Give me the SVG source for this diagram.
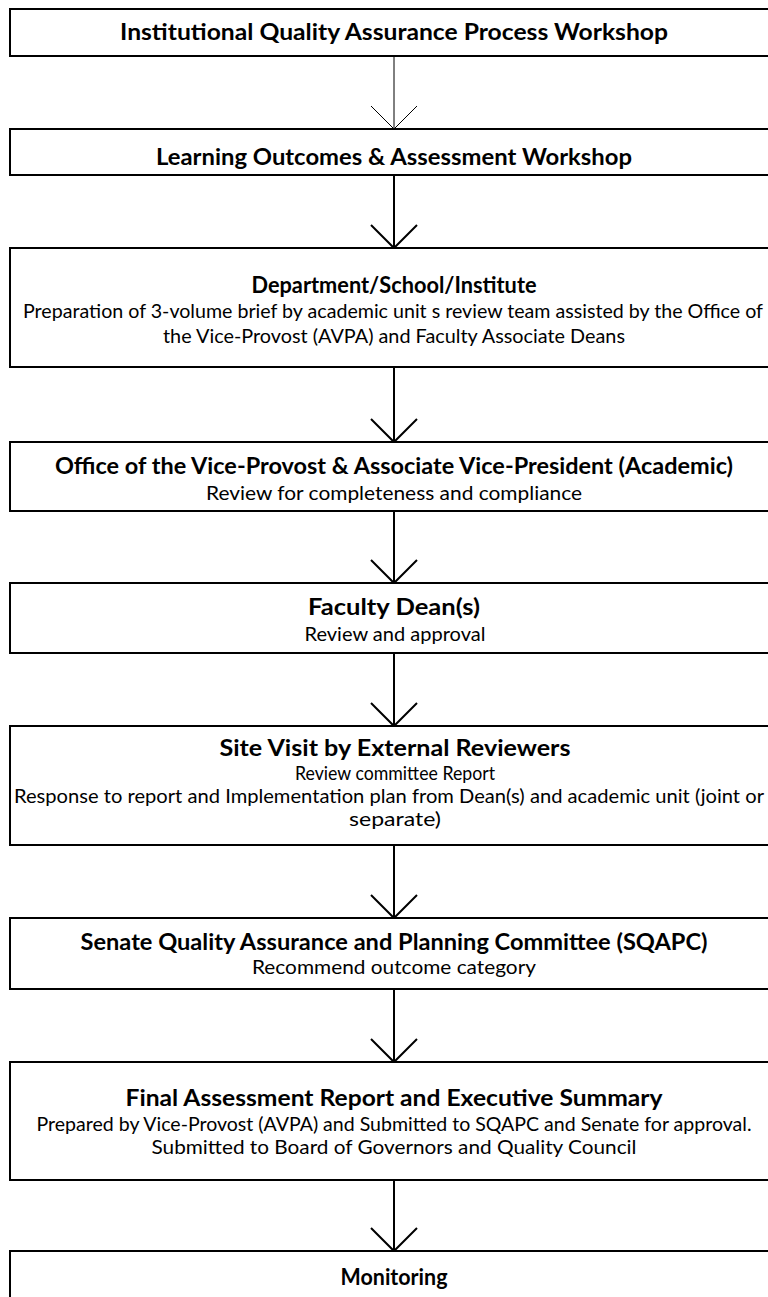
<svg xmlns="http://www.w3.org/2000/svg" width="768" height="1297" viewBox="0 0 768 1297">
<style>
.box{fill:#fff;stroke:#000;stroke-width:2}
.t{font-family:Lato,"Liberation Sans",sans-serif;font-weight:700;font-size:22px;fill:#000;text-anchor:middle}
.b{font-family:Lato,"Liberation Sans",sans-serif;font-weight:400;font-size:19px;fill:#000;text-anchor:middle}
.ln{stroke:#000;stroke-width:2;fill:none}
.thin{stroke:#000;stroke-width:1;fill:none}
</style>
<rect width="768" height="1297" fill="#fff"/>
<g id="connectors">
  <g id="a1"><line class="thin" x1="394" y1="56" x2="394" y2="129"/><polyline class="thin" points="371,106 394,129 417,106"/></g>
  <g id="a2"><line class="ln" x1="394" y1="175" x2="394" y2="248"/><polyline class="ln" points="371,225 394,248 417,225"/></g>
  <g id="a3"><line class="ln" x1="394" y1="367" x2="394" y2="442"/><polyline class="ln" points="371,419 394,442 417,419"/></g>
  <g id="a4"><line class="ln" x1="394" y1="511" x2="394" y2="583"/><polyline class="ln" points="371,560 394,583 417,560"/></g>
  <g id="a5"><line class="ln" x1="394" y1="653" x2="394" y2="726"/><polyline class="ln" points="371,703 394,726 417,703"/></g>
  <g id="a6"><line class="ln" x1="394" y1="845" x2="394" y2="918"/><polyline class="ln" points="371,895 394,918 417,895"/></g>
  <g id="a7"><line class="ln" x1="394" y1="989" x2="394" y2="1062"/><polyline class="ln" points="371,1039 394,1062 417,1039"/></g>
  <g id="a8"><line class="ln" x1="394" y1="1180" x2="394" y2="1251"/><polyline class="ln" points="371,1228 394,1251 417,1228"/></g>
</g>
<g id="n1"><rect class="box" x="10" y="9" width="770" height="47"/>
  <text class="t" x="394" y="40" textLength="548" lengthAdjust="spacingAndGlyphs">Institutional Quality Assurance Process Workshop</text></g>
<g id="n2"><rect class="box" x="10" y="129" width="770" height="46"/>
  <text class="t" x="394" y="165" textLength="476" lengthAdjust="spacingAndGlyphs">Learning Outcomes &amp; Assessment Workshop</text></g>
<g id="n3"><rect class="box" x="10" y="248" width="770" height="119"/>
  <text class="t" x="394" y="293" textLength="285" lengthAdjust="spacingAndGlyphs">Department/School/Institute</text>
  <text class="b" x="393" y="318" textLength="740" lengthAdjust="spacingAndGlyphs">Preparation of 3-volume brief by academic unit s review team assisted by the Office of</text>
  <text class="b" x="394" y="343" textLength="462" lengthAdjust="spacingAndGlyphs">the Vice-Provost (AVPA) and Faculty Associate Deans</text></g>
<g id="n4"><rect class="box" x="10" y="442" width="770" height="69"/>
  <text class="t" x="394" y="474" textLength="678" lengthAdjust="spacingAndGlyphs">Office of the Vice-Provost &amp; Associate Vice-President (Academic)</text>
  <text class="b" x="394" y="500" textLength="376" lengthAdjust="spacingAndGlyphs">Review for completeness and compliance</text></g>
<g id="n5"><rect class="box" x="10" y="583" width="770" height="70"/>
  <text class="t" x="394" y="615" textLength="172" lengthAdjust="spacingAndGlyphs">Faculty Dean(s)</text>
  <text class="b" x="395" y="641" textLength="181" lengthAdjust="spacingAndGlyphs">Review and approval</text></g>
<g id="n6"><rect class="box" x="10" y="726" width="770" height="119"/>
  <text class="t" x="395" y="756" textLength="351" lengthAdjust="spacingAndGlyphs">Site Visit by External Reviewers</text>
  <text class="b" x="395" y="780" textLength="200" lengthAdjust="spacingAndGlyphs">Review committee Report</text>
  <text class="b" x="389" y="803" textLength="750" lengthAdjust="spacingAndGlyphs">Response to report and Implementation plan from Dean(s) and academic unit (joint or</text>
  <text class="b" x="395" y="826" textLength="92" lengthAdjust="spacingAndGlyphs">separate)</text></g>
<g id="n7"><rect class="box" x="10" y="918" width="770" height="71"/>
  <text class="t" x="394" y="950" textLength="627" lengthAdjust="spacingAndGlyphs">Senate Quality Assurance and Planning Committee (SQAPC)</text>
  <text class="b" x="394" y="974" textLength="284" lengthAdjust="spacingAndGlyphs">Recommend outcome category</text></g>
<g id="n8"><rect class="box" x="10" y="1062" width="770" height="118"/>
  <text class="t" x="394" y="1106" textLength="537" lengthAdjust="spacingAndGlyphs">Final Assessment Report and Executive Summary</text>
  <text class="b" x="394" y="1131" textLength="715" lengthAdjust="spacingAndGlyphs">Prepared by Vice-Provost (AVPA) and Submitted to SQAPC and Senate for approval.</text>
  <text class="b" x="394" y="1154" textLength="485" lengthAdjust="spacingAndGlyphs">Submitted to Board of Governors and Quality Council</text></g>
<g id="n9"><rect class="box" x="10" y="1251" width="770" height="70"/>
  <text class="t" x="394" y="1285" textLength="107" lengthAdjust="spacingAndGlyphs">Monitoring</text></g>
</svg>
